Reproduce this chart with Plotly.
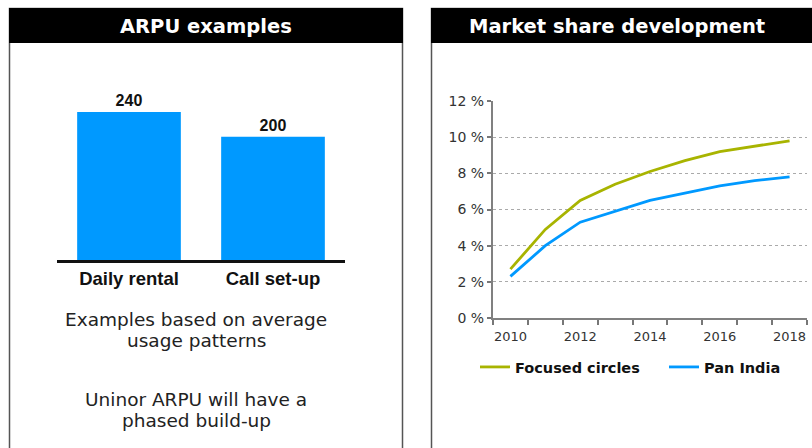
import plotly.graph_objects as go

W, H = 812, 448

# ---- data ----
arpu_categories = ["Daily rental", "Call set-up"]
arpu_values = [240, 200]

years = ["2010", "2011", "2012", "2013", "2014", "2015", "2016", "2017", "2018"]
year_ticktext = ["2010", "", "2012", "", "2014", "", "2016", "", "2018"]
focused_circles = [2.7, 4.9, 6.5, 7.4, 8.1, 8.7, 9.2, 9.5, 9.8]
pan_india = [2.3, 4.0, 5.3, 5.9, 6.5, 6.9, 7.3, 7.6, 7.8]

left_title = "ARPU examples"
right_title = "Market share development"
notes = ["Examples based on average", "usage patterns",
         "Uninor ARPU will have a", "phased build-up"]


def px(x):
    return x / W


def py(y):
    return 1 - y / H


BLUE = "#0099ff"
OLIVE = "#a8b400"

fig = go.Figure()

fig.add_trace(go.Bar(
    x=arpu_categories, y=arpu_values, width=0.72,
    marker=dict(color=BLUE, line=dict(width=0)),
    text=[f"<b>{v}</b>" for v in arpu_values], textposition="outside",
    textfont=dict(family="Liberation Sans", size=16, color="#111"),
    cliponaxis=False, showlegend=False, xaxis="x", yaxis="y",
))

fig.add_trace(go.Scatter(
    x=years, y=focused_circles, mode="lines", name="Focused circles",
    line=dict(color=OLIVE, width=2.8), xaxis="x2", yaxis="y2",
))
fig.add_trace(go.Scatter(
    x=years, y=pan_india, mode="lines", name="Pan India",
    line=dict(color=BLUE, width=2.8), xaxis="x2", yaxis="y2",
))

shapes = []
# panels
shapes.append(dict(type="rect", xref="paper", yref="paper",
                   x0=px(9.5), x1=px(402.5), y0=py(460), y1=py(8.5),
                   line=dict(color="#555", width=1.5), fillcolor="rgba(0,0,0,0)"))
shapes.append(dict(type="rect", xref="paper", yref="paper",
                   x0=px(431.5), x1=px(830), y0=py(460), y1=py(8.5),
                   line=dict(color="#555", width=1.5), fillcolor="rgba(0,0,0,0)"))
shapes.append(dict(type="rect", xref="paper", yref="paper",
                   x0=px(9), x1=px(403), y0=py(43), y1=py(8),
                   line=dict(width=0), fillcolor="#000"))
shapes.append(dict(type="rect", xref="paper", yref="paper",
                   x0=px(431), x1=px(830), y0=py(43), y1=py(8),
                   line=dict(width=0), fillcolor="#000"))

annotations = [
    dict(text=f"<b>{left_title}</b>", x=px(206), y=py(26), xref="paper", yref="paper",
         showarrow=False, xanchor="center", yanchor="middle",
         font=dict(family="DejaVu Sans", size=19.5, color="white")),
    dict(text=f"<b>{right_title}</b>", x=px(617), y=py(26), xref="paper", yref="paper",
         showarrow=False, xanchor="center", yanchor="middle",
         font=dict(family="DejaVu Sans", size=19.5, color="white")),
]
for txt, yc in zip(notes, [319, 340, 399, 420]):
    annotations.append(dict(text=txt, x=px(196), y=py(yc), xref="paper", yref="paper",
                            showarrow=False, xanchor="center", yanchor="middle",
                            font=dict(family="DejaVu Sans", size=18.5, color="#222")))

fig.update_layout(
    width=W, height=H, margin=dict(l=0, r=0, t=0, b=0, autoexpand=False),
    paper_bgcolor="white", plot_bgcolor="rgba(0,0,0,0)",
    shapes=shapes, annotations=annotations,
    xaxis=dict(domain=[px(57), px(345)], range=[-0.5, 1.5], type="category",
               showline=True, linecolor="#111", linewidth=2.5, ticks="",
               showgrid=False, zeroline=False, anchor="y", tickangle=0,
               tickfont=dict(family="Liberation Sans", size=18.5, color="#111"),
               ticktext=[f"<b>{c}</b>" for c in arpu_categories], tickvals=arpu_categories,
               ticklabelstandoff=0),
    yaxis=dict(domain=[py(260), py(99.7)], range=[0, 260], visible=False, anchor="x"),
    xaxis2=dict(domain=[px(493), px(807)], type="category", anchor="y2", tickangle=0,
                range=[-0.5, 8.5],
                tickvals=years, ticktext=year_ticktext, tickson="boundaries",
                ticks="outside", ticklen=5, tickwidth=1.5, tickcolor="#777",
                showline=True, linecolor="#808080", linewidth=2, showgrid=False,
                ticklabelstandoff=5,
                tickfont=dict(family="DejaVu Sans", size=13, color="#333")),
    yaxis2=dict(domain=[py(318), py(101)], range=[0, 12], dtick=2, anchor="x2",
                ticksuffix=" %", ticks="outside", ticklen=4, tickwidth=1.5, tickcolor="#777",
                showline=True, linecolor="#808080", linewidth=2, zeroline=False,
                showgrid=True, gridcolor="#aaaaaa", gridwidth=1, griddash="dot",
                tickfont=dict(family="DejaVu Sans", size=14, color="#333")),
    legend=dict(orientation="h", x=px(475), y=py(351), xanchor="left", yanchor="top",
                font=dict(family="DejaVu Sans", size=14.5, color="#111", weight="bold"),
                entrywidth=144, entrywidthmode="pixels", bgcolor="rgba(0,0,0,0)",
                traceorder="normal"),
)

fig.write_html("out.html")
